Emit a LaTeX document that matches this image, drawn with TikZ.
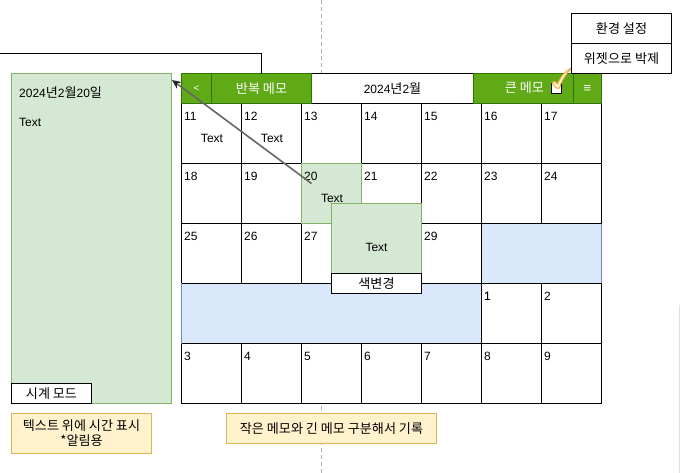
\documentclass[tikz,border=0pt]{standalone}
\usepackage{fontspec}
\setmainfont{Liberation Sans}
\newfontfamily\kr[Scale=1.09]{Noto Sans CJK KR}
\newcommand{\K}[1]{{\kr #1}}
\usetikzlibrary{arrows.meta}
\definecolor{hdrgreen}{HTML}{60A917}
\definecolor{hdrline}{HTML}{2D7600}
\definecolor{sage}{HTML}{D5E8D4}
\definecolor{sageline}{HTML}{82B366}
\definecolor{skyfill}{HTML}{DAE8FC}
\definecolor{skyline}{HTML}{6C8EBF}
\definecolor{creamfill}{HTML}{FFF2CC}
\definecolor{creamline}{HTML}{D6B656}
\definecolor{tickline}{HTML}{E8A93C}
\tikzset{
  box/.style={draw=black,line width=1pt,fill=white,anchor=north west,inner sep=0pt,outer sep=0pt,align=center,font=\fontsize{12}{14}\selectfont},
  cell/.style={box,minimum width=60pt,minimum height=60pt},
  hdr/.style={draw=hdrline,line width=1pt,fill=hdrgreen,text=white,anchor=north west,inner sep=0pt,outer sep=0pt,minimum height=30pt,font=\fontsize{12}{14}\selectfont},
  sagebox/.style={draw=sageline,line width=1pt,fill=sage,anchor=north west,inner sep=0pt,outer sep=0pt,font=\fontsize{12}{14}\selectfont},
  skybox/.style={fill=skyfill,anchor=north west,inner sep=0pt,outer sep=0pt,draw=skyline,line width=1pt},
  gridline/.style={draw=black,line width=1pt},
  note/.style={draw=creamline,line width=1pt,fill=creamfill,anchor=north west,inner sep=0pt,outer sep=0pt,align=center,font=\fontsize{12}{15}\selectfont},
  daynum/.style={anchor=north west,inner sep=0pt,font=\fontsize{12}{14}\selectfont},
  txt/.style={inner sep=0pt,font=\fontsize{12}{14}\selectfont},
}
\begin{document}
\begin{tikzpicture}[x=1pt,y=-1pt]
\useasboundingbox (0,0) rectangle (680,472);
\fill[white] (0,0) rectangle (680,472);
\begin{scope}[shift={(-0.5,-0.5)}]
% centre guide
\coordinate (gtop) at (322,0);
\coordinate (gbot) at (322,473);
\draw[draw=black!30,line width=0.8pt,dash pattern=on 4pt off 3pt] (gtop) -- (gbot);
% faint edge on the right
\coordinate (etop) at (680,305);
\coordinate (ebot) at (680,473);
\draw[draw=black!12,line width=1pt] (etop) -- (ebot);
% calendar cells
\foreach \r/\yy/\labs in {0/104/{11,12,13,14,15,16,17},1/164/{18,19,20,21,22,23,24},2/224/{25,26,27,,29,,},3/284/{,,,,,1,2},4/344/{3,4,5,6,7,8,9}}{
  \foreach \d [count=\c from 0] in \labs {
    \pgfmathsetmacro{\xx}{182+60*\c}
    \node[cell] (c\r-\c) at (\xx,\yy) {};
    \node[daynum] (n\r-\c) at (\xx+2.5,\yy+8.5) {\d};
  }
}
\node[skybox,minimum width=120pt,minimum height=60pt] (bluea) at (482,224) {};
\node[skybox,minimum width=300pt,minimum height=60pt] (blueb) at (182,284) {};
\draw[gridline] (bluea.south west) -- (bluea.north west) -- (bluea.north east);
\draw[gridline] (bluea.south west) -- (bluea.south east);
\draw[gridline] (blueb.south west) -- (blueb.south east) -- (blueb.north east) -- (blueb.north west);
\node[daynum] (n3-5) at (484.5,292.5) {1};
\node[sagebox,minimum width=60pt,minimum height=60pt] (d20) at (302,164) {};
\node[daynum] (n20) at (304.5,172.5) {20};
\node[txt] (t20) at (332.5,198.5) {Text};
\node[txt] (t11) at (212.5,138.5) {Text};
\node[txt] (t12) at (272.5,138.5) {Text};
% header
\node[box,minimum width=162pt,minimum height=30pt] (month) at (312,74) {\raisebox{1pt}{2024\K{년}2\K{월}}};
\node[hdr,minimum width=30pt] (back) at (182,74) {\fontsize{10}{12}\selectfont <};
\node[hdr,minimum width=100pt] (rep) at (212,74) {\K{반복 메모}};
\node[hdr,minimum width=100pt] (big) at (474,74) {\hspace*{0pt}};
\node[txt,text=white] (bigt) at (525,88) {\K{큰 메모}};
\node[hdr,minimum width=28pt] (menu) at (574,74) {\fontsize{13}{14}\selectfont ≡};
\node[box,minimum width=10pt,minimum height=10pt] (chk) at (552,83.5) {};
% tick
\draw[draw=tickline,line width=0.9pt,fill=creamfill,line join=round]
  (552.3,83) .. controls (554.5,81) and (556.5,82) .. (558,84.5)
  .. controls (561,77) and (566,71) .. (572,68.5)
  .. controls (567,74) and (562,81) .. (560,88.5)
  .. controls (557.5,90) and (555,87.5) .. (552.3,83) -- cycle;
% settings menu
\node[box,minimum width=100pt,minimum height=30pt] (set) at (572,14) {\K{환경 설정}};
\node[box,minimum width=100pt,minimum height=30pt] (unw) at (572,44) {\K{위젯으로 박제}};
% left panel
\node[sagebox,minimum width=160pt,minimum height=330pt] (panel) at (12,74) {};
\node[txt,anchor=west] (pdate) at (19.5,93.5) {2024\K{년}2\K{월}20\K{일}};
\node[txt,anchor=west] (ptext) at (19.5,123) {Text};
\node[box,minimum width=80pt,minimum height=20pt] (clock) at (12,384) {\K{시계 모드}};
% popup
\node[sagebox,minimum width=90pt,minimum height=70pt] (pop) at (332,204) {};
\node[txt] (poptext) at (377,248) {Text};
\node[box,minimum width=90pt,minimum height=20pt] (col) at (332,274) {\K{색변경}};
% notes
\node[note,minimum width=140pt,minimum height=40pt] (note1) at (12,414) {\K{텍스트 위에 시간 표시}\\\K{*알림용}};
\node[note,minimum width=210pt,minimum height=30pt] (note2) at (227,414) {\K{작은 메모와 긴 메모 구분해서 기록}};
% connectors
\coordinate (wire) at (0,54);
\coordinate (wirec) at (262,54);
\coordinate (wired) at (262,74);
\draw[black,line width=1pt] (wire) -- (wirec) -- (wired);
\coordinate (arrs) at (312,184);
\coordinate (arre) at (172.5,80.5);
\draw[draw=black!60,line width=1.6pt,-{Stealth[length=9pt,width=8pt,color=black!85]}] (arrs) -- (arre);
\end{scope}
\end{tikzpicture}
\end{document}
